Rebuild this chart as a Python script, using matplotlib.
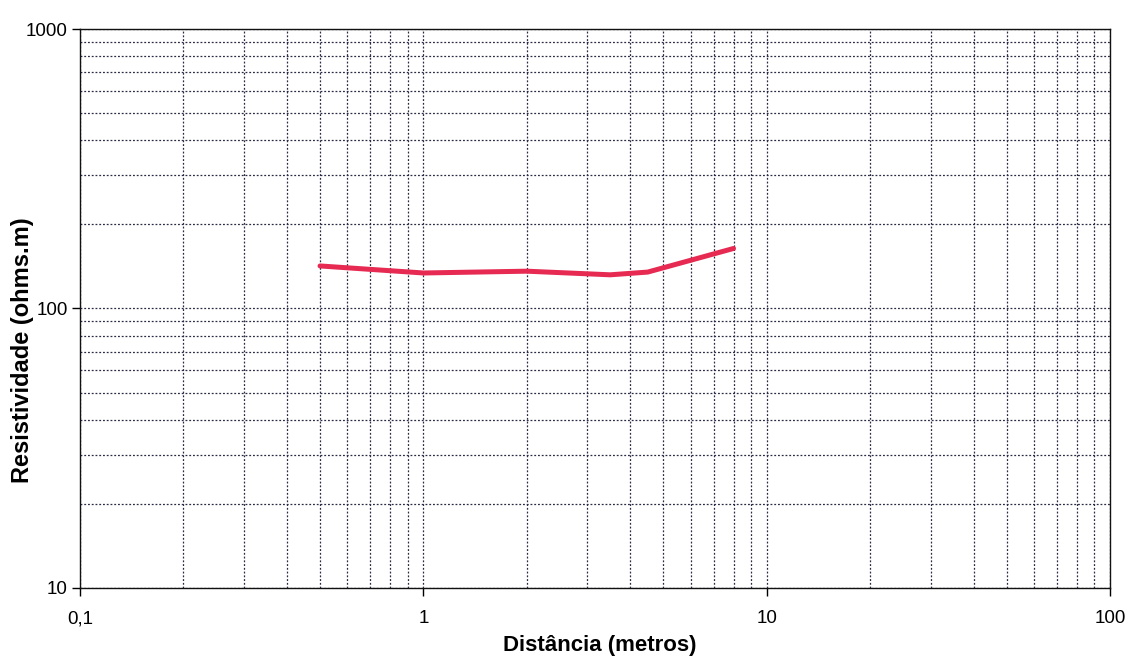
import matplotlib.pyplot as plt
from matplotlib.ticker import FixedLocator, LogLocator, FuncFormatter, NullFormatter

plt.rcParams['font.family'] = ['Liberation Sans', 'DejaVu Sans']

# sondagem: espaçamento (m) e resistividade aparente (ohms.m)
distancia = [0.5, 1, 2, 3.5, 4.5, 8]
resistividade = [142, 134, 136, 132, 135, 164]

x_ticks = [0.1, 1, 10, 100]
y_ticks = [10, 100, 1000]

fig = plt.figure(figsize=(11.32, 6.62), dpi=100)
ax = fig.add_axes([0.0707, 0.112, 0.910, 0.844])

ax.plot(distancia, resistividade, color='#e62a52', lw=3.6, solid_capstyle='round')

ax.set_xscale('log')
ax.set_yscale('log')
ax.set_xlim(0.1, 100)
ax.set_ylim(10, 1000)

ax.xaxis.set_major_locator(FixedLocator(x_ticks))
ax.yaxis.set_major_locator(FixedLocator(y_ticks))
ax.xaxis.set_minor_locator(LogLocator(base=10, subs=range(2, 10)))
ax.yaxis.set_minor_locator(LogLocator(base=10, subs=range(2, 10)))
virgula = FuncFormatter(lambda v, pos: f"{v:g}".replace('.', ','))
ax.xaxis.set_major_formatter(virgula)
ax.yaxis.set_major_formatter(virgula)
ax.xaxis.set_minor_formatter(NullFormatter())
ax.yaxis.set_minor_formatter(NullFormatter())

ax.tick_params(which='major', direction='out', length=6, width=1, labelsize=13.5)
ax.tick_params(axis='x', which='major', pad=10)
ax.tick_params(axis='y', which='major', pad=3)
ax.tick_params(which='minor', length=0)

ax.grid(True, which='both', color='#2a2a44', lw=0.9, linestyle=(0, (1.5, 1.5)))
for s in ax.spines.values():
    s.set_color('#111111')
    s.set_linewidth(1.0)

ax.set_xlabel('Distância (metros)', fontsize=16, fontweight='bold', labelpad=6)
ax.xaxis.label.set_x(0.505)
ax.set_ylabel('Resistividade (ohms.m)', fontsize=17, fontweight='bold')
ax.yaxis.set_label_coords(-0.045, 0.425)

fig.savefig('out.png', dpi=100, facecolor='white')
